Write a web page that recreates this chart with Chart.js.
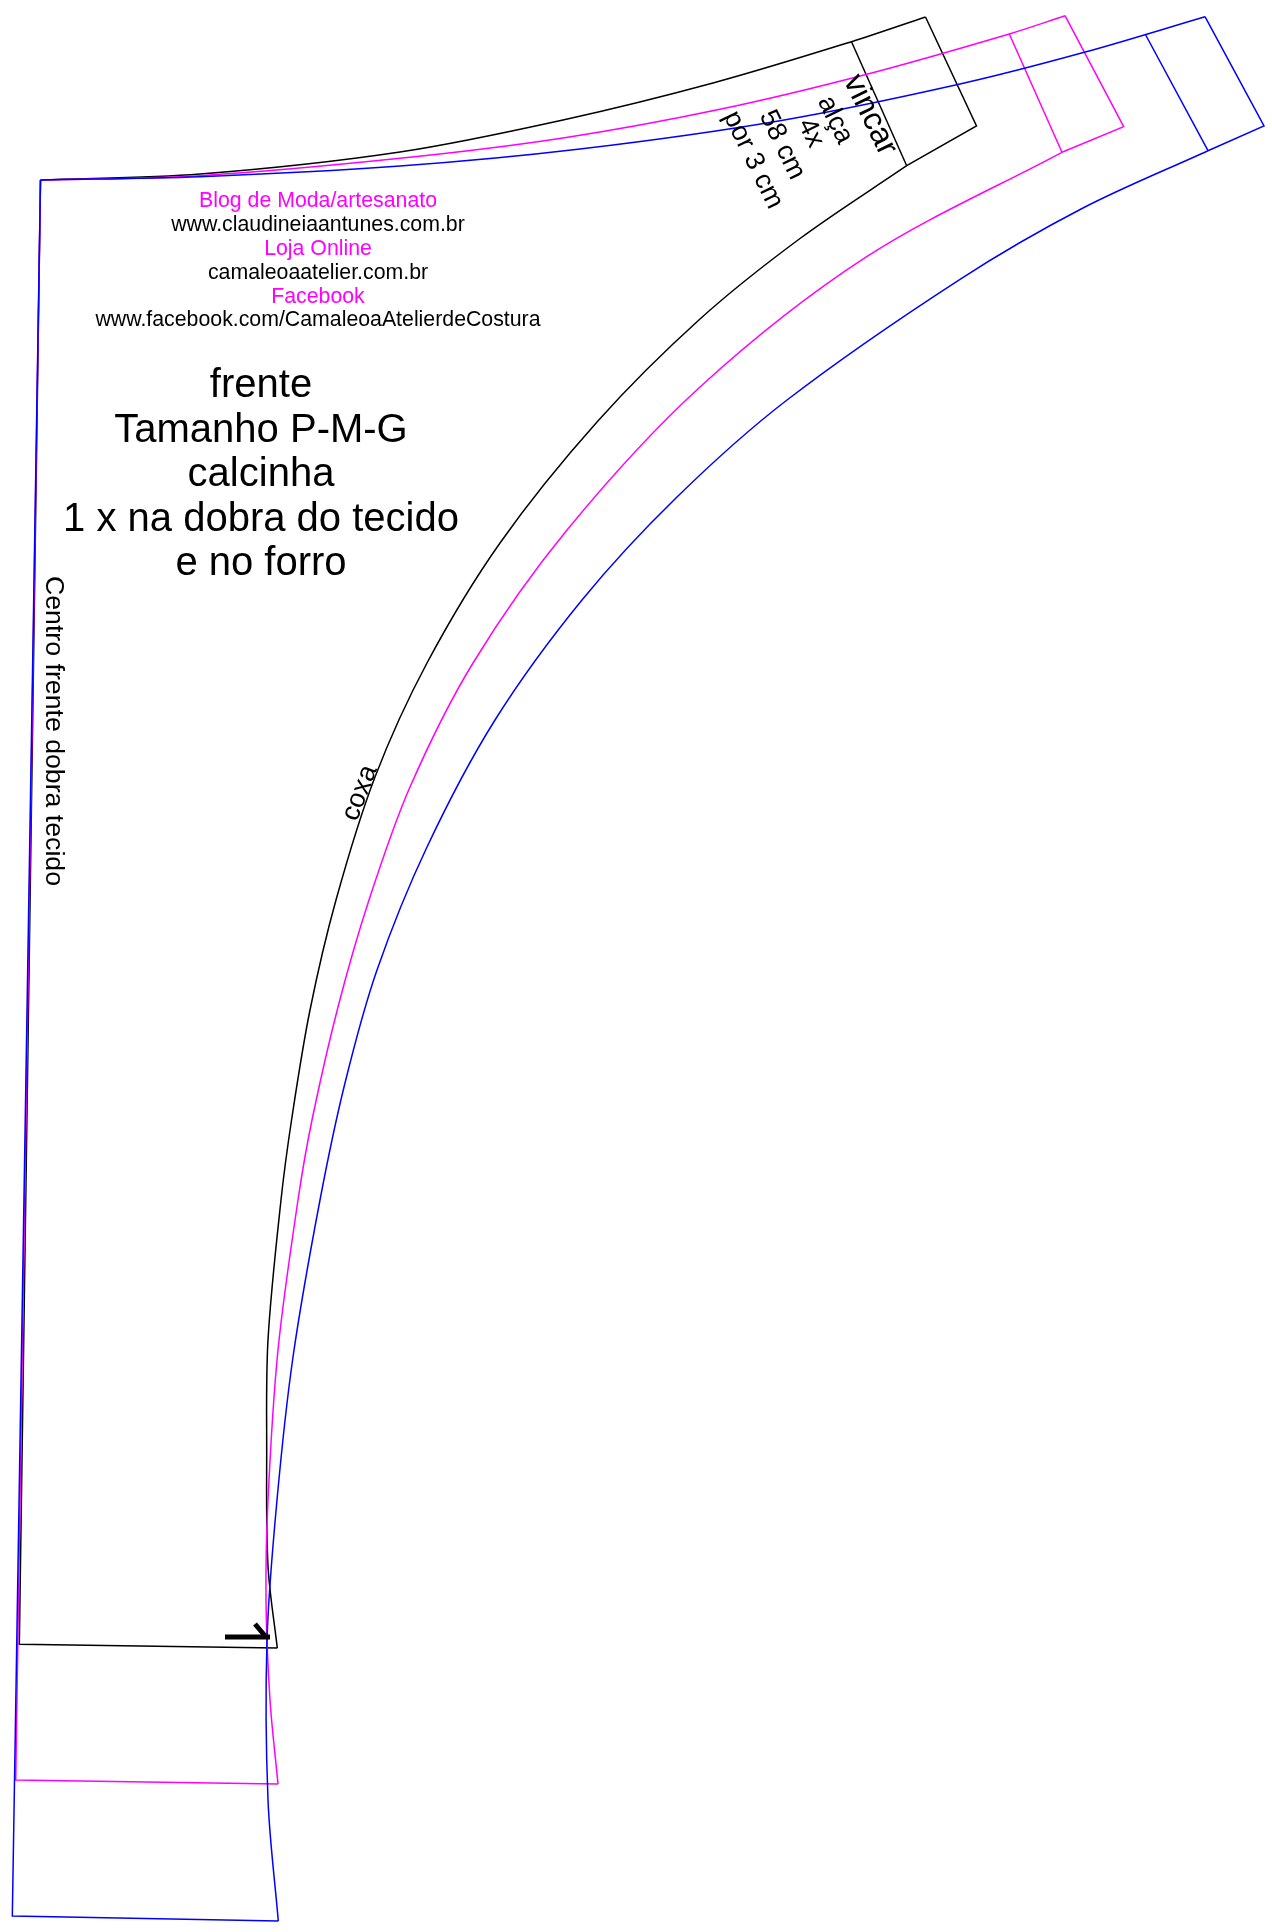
<!DOCTYPE html>
<html lang="pt"><head><meta charset="utf-8">
<style>html,body{margin:0;padding:0;background:#fff}canvas{display:block}</style>
<script src="https://cdn.jsdelivr.net/npm/chart.js@4"></script></head>
<body><canvas id="c" width="1272" height="1932"></canvas>
<script>
const blackTop=[[40.5,180],[200,174],[400,152],[563,120],[713,83],[851.5,41.7],[925.5,17]];
const blackHem=[[906.7,165.7],[800,238.5],[700,319],[597,422],[500,543],[427,663],[375,777],[336,900],[310,1010],[292,1117],[281,1200],[268,1340],[266.7,1450],[268,1566],[277.3,1648]];
const blackStraight=[[925.5,17],[976.5,126],[906.7,165.7]];
const blackBase=[[277.3,1648],[19.3,1644.3],[40.5,180]];
const blackCrease=[[851.5,41.7],[906.7,165.7]];
const magentaTop=[[40.5,180],[200,175.7],[400,158.3],[563,138],[720,109.3],[866,74.5],[1009.3,34],[1065,15.7]];
const magentaHem=[[1062,152.3],[866.7,256.7],[700,387],[567,530],[473,663],[410,787],[369,900],[338,1007],[312,1120],[298,1200],[278,1350],[268,1500],[266,1600],[270,1700],[278,1784]];
const magentaStraight=[[1065,15.7],[1123.7,126.7],[1062,152.3]];
const magentaBase=[[278,1784],[15.7,1780],[40.5,180]];
const magentaCrease=[[1009.3,34],[1062,152.3]];
const blueTop=[[40.5,180],[200,176.7],[400,166],[580,149],[780,120.7],[960,84],[1084.3,52.3],[1205,16.7]];
const blueHem=[[1208,150.7],[1083,208],[960,279.3],[787,400],[677,497],[582,600],[495,720],[427,847],[377,970],[345,1083],[320,1200],[293,1357],[277,1500],[267,1640],[268,1800],[278.3,1921]];
const blueStraight=[[1205,16.7],[1264,126],[1208,150.7]];
const blueBase=[[278.3,1921],[12.3,1916],[40.5,180]];
const blueCrease=[[1145.7,35],[1208,150.7]];
const arrowShaft=[[225,1637],[270,1637]];
const arrowHead=[[255,1624],[266,1637]];

const infoLines=['Blog de Moda/artesanato','www.claudineiaantunes.com.br','Loja Online','camaleoaatelier.com.br','Facebook','www.facebook.com/CamaleoaAtelierdeCostura'];
const titleLines=['frente','Tamanho P-M-G','calcinha','1 x na dobra do tecido','e no forro'];
const strapLines=['vincar','alça','4x','58 cm','por 3 cm'];

const BLACK='#000',PINK='#ff00ff',BLUE='#0000ff';
const pts=a=>a.map(p=>({x:p[0],y:p[1]}));
const line=(a,color,curve,w)=>({data:pts(a),borderColor:color,borderWidth:w||1.5,tension:curve?0.33:0,pointRadius:0,fill:false,clip:false,borderCapStyle:'butt'});
const infoY=[207,231,255,279,303,326],titleY=[397,442,486,531,575];
const strapPos=[[870,115,32],[835,120,27],[810.7,133,27],[782,145,27],[753,160,27]];
const textPlugin={id:'texts',afterDatasetsDraw(chart){
  const {ctx,scales:{x,y}}=chart;
  const put=(t,px,py,size,color,rot,base)=>{ctx.save();ctx.translate(x.getPixelForValue(px),y.getPixelForValue(py));
    if(rot)ctx.rotate(rot*Math.PI/180);ctx.font=size+'px "Liberation Sans"';ctx.fillStyle=color;ctx.textAlign='center';ctx.textBaseline=base||'alphabetic';ctx.fillText(t,0,0);ctx.restore();};
  infoLines.forEach((t,i)=>put(t,318,infoY[i],21.3,i%2?BLACK:PINK));
  titleLines.forEach((t,i)=>put(t,261,titleY[i],40,BLACK));
  strapLines.forEach((t,i)=>put(t,strapPos[i][0],strapPos[i][1],strapPos[i][2],BLACK,64,'middle'));
  put('Centro frente dobra tecido',53,731,26.7,BLACK,90,'middle');
  put('coxa',360,793,27,BLACK,-69,'middle');
}};
new Chart(document.getElementById('c'),{type:'scatter',
 data:{datasets:[
  line(arrowShaft,BLACK,false,5),line(arrowHead,BLACK,false,5),
  line(blueTop,BLUE,true),line(blueHem,BLUE,true),line(blueStraight,BLUE),line(blueBase,BLUE),line(blueCrease,BLUE),
  line(magentaTop,PINK,true),line(magentaHem,PINK,true),line(magentaStraight,PINK),line(magentaBase,PINK),line(magentaCrease,PINK),
  line(blackTop,BLACK,true),line(blackHem,BLACK,true),line(blackStraight,BLACK),line(blackBase,BLACK),line(blackCrease,BLACK)
 ].map(d=>Object.assign(d,{showLine:true}))},
 options:{responsive:false,devicePixelRatio:1,animation:false,layout:{padding:0},
  plugins:{legend:{display:false},tooltip:{enabled:false},title:{display:false}},
  scales:{x:{type:'linear',display:false,min:0,max:1272},y:{type:'linear',display:false,min:0,max:1932,reverse:true}}},
 plugins:[textPlugin]});
</script></body></html>
